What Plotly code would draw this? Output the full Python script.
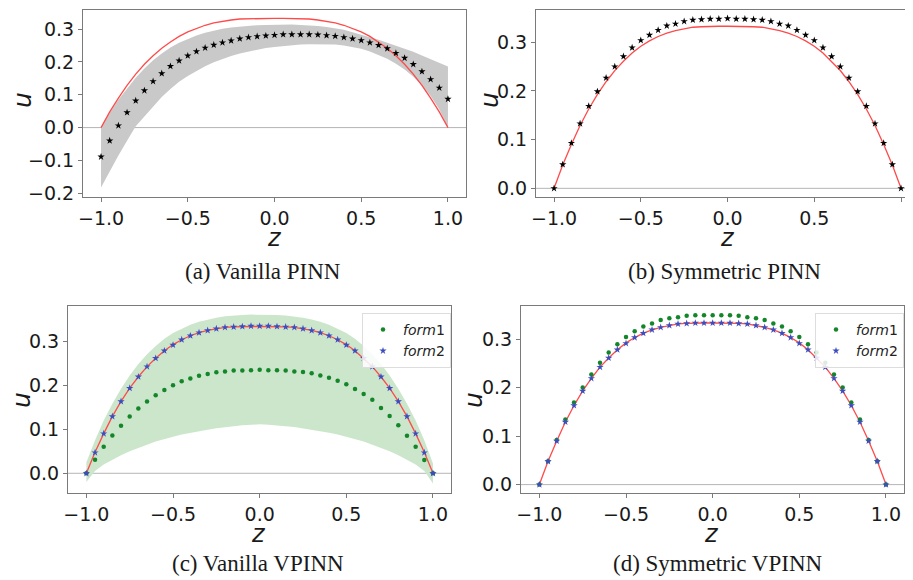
import plotly.graph_objects as go

# ---------------- data ----------------
z = [-1.0, -0.95, -0.9, -0.85, -0.8, -0.75, -0.7, -0.65, -0.6, -0.55, -0.5,
     -0.45, -0.4, -0.35, -0.3, -0.25, -0.2, -0.15, -0.1, -0.05, 0.0,
     0.05, 0.1, 0.15, 0.2, 0.25, 0.3, 0.35, 0.4, 0.45, 0.5,
     0.55, 0.6, 0.65, 0.7, 0.75, 0.8, 0.85, 0.9, 0.95, 1.0]

exact = [0.000, 0.048, 0.090, 0.129, 0.163, 0.193, 0.219, 0.242, 0.261, 0.278, 0.292,
         0.303, 0.312, 0.319, 0.324, 0.328, 0.331, 0.332, 0.333, 0.333, 0.333,
         0.333, 0.333, 0.332, 0.331, 0.328, 0.324, 0.319, 0.312, 0.303, 0.292,
         0.278, 0.261, 0.242, 0.219, 0.193, 0.163, 0.129, 0.090, 0.048, 0.000]

# (a) Vanilla PINN
a_pred = [-0.089, -0.040, 0.006, 0.046, 0.082, 0.113, 0.141, 0.165, 0.187, 0.204, 0.219,
          0.232, 0.243, 0.252, 0.259, 0.265, 0.271, 0.275, 0.278, 0.280, 0.282,
          0.284, 0.284, 0.284, 0.284, 0.283, 0.281, 0.279, 0.275, 0.271, 0.266,
          0.259, 0.251, 0.241, 0.227, 0.212, 0.193, 0.171, 0.147, 0.121, 0.087]
a_hi = [0.000, 0.045, 0.085, 0.120, 0.152, 0.180, 0.205, 0.226, 0.244, 0.259, 0.271,
        0.281, 0.289, 0.296, 0.301, 0.305, 0.308, 0.311, 0.312, 0.313, 0.314,
        0.314, 0.314, 0.313, 0.312, 0.310, 0.307, 0.303, 0.298, 0.291, 0.284,
        0.276, 0.268, 0.259, 0.250, 0.241, 0.231, 0.220, 0.209, 0.197, 0.186]
a_lo = [-0.183, -0.133, -0.085, -0.040, 0.004, 0.034, 0.065, 0.093, 0.118, 0.140, 0.157,
        0.173, 0.187, 0.199, 0.209, 0.218, 0.226, 0.232, 0.238, 0.243, 0.246,
        0.249, 0.251, 0.253, 0.254, 0.254, 0.254, 0.253, 0.250, 0.246, 0.240,
        0.232, 0.222, 0.210, 0.195, 0.177, 0.155, 0.128, 0.096, 0.055, 0.000]

# (b) Symmetric PINN
b_pred = [0.000, 0.049, 0.093, 0.133, 0.169, 0.199, 0.227, 0.250, 0.271, 0.289, 0.304,
          0.315, 0.325, 0.334, 0.338, 0.343, 0.346, 0.347, 0.348, 0.348, 0.349,
          0.348, 0.348, 0.347, 0.346, 0.343, 0.338, 0.334, 0.325, 0.315, 0.304,
          0.289, 0.271, 0.250, 0.227, 0.199, 0.169, 0.133, 0.093, 0.049, 0.000]

# (c) Vanilla VPINN
c_form1 = [0.000, 0.031, 0.060, 0.086, 0.108, 0.129, 0.147, 0.163, 0.177, 0.189, 0.200,
           0.209, 0.215, 0.221, 0.225, 0.229, 0.231, 0.233, 0.233, 0.234, 0.235,
           0.234, 0.234, 0.233, 0.231, 0.230, 0.227, 0.222, 0.217, 0.210, 0.202,
           0.191, 0.180, 0.167, 0.148, 0.130, 0.109, 0.085, 0.060, 0.030, 0.000]
c_form2 = [0.000, 0.047, 0.090, 0.129, 0.163, 0.193, 0.219, 0.242, 0.261, 0.278, 0.291,
           0.303, 0.312, 0.319, 0.324, 0.328, 0.331, 0.332, 0.333, 0.334, 0.334,
           0.334, 0.333, 0.332, 0.331, 0.328, 0.324, 0.319, 0.312, 0.303, 0.291,
           0.278, 0.261, 0.242, 0.219, 0.193, 0.163, 0.129, 0.090, 0.047, 0.000]
c_hi = [0.025, 0.075, 0.120, 0.158, 0.192, 0.222, 0.248, 0.270, 0.289, 0.305, 0.318,
        0.328, 0.337, 0.344, 0.349, 0.353, 0.356, 0.358, 0.359, 0.360, 0.360,
        0.360, 0.359, 0.358, 0.356, 0.353, 0.349, 0.344, 0.337, 0.328, 0.318,
        0.305, 0.289, 0.270, 0.248, 0.222, 0.192, 0.158, 0.120, 0.075, 0.022]
c_lo = [-0.020, 0.005, 0.020, 0.031, 0.041, 0.050, 0.058, 0.065, 0.072, 0.078, 0.083,
        0.088, 0.092, 0.096, 0.099, 0.102, 0.105, 0.107, 0.109, 0.110, 0.111,
        0.110, 0.109, 0.107, 0.105, 0.102, 0.099, 0.096, 0.092, 0.088, 0.083,
        0.078, 0.072, 0.065, 0.058, 0.050, 0.041, 0.031, 0.020, 0.005, -0.023]

# (d) Symmetric VPINN
d_form1 = [0.000, 0.048, 0.092, 0.134, 0.169, 0.200, 0.227, 0.251, 0.272, 0.289, 0.304,
           0.316, 0.326, 0.332, 0.339, 0.343, 0.345, 0.348, 0.349, 0.349, 0.349,
           0.349, 0.349, 0.348, 0.345, 0.343, 0.339, 0.332, 0.326, 0.316, 0.304,
           0.289, 0.272, 0.251, 0.227, 0.200, 0.169, 0.134, 0.092, 0.048, 0.000]
d_form2 = [0.000, 0.048, 0.090, 0.129, 0.163, 0.193, 0.219, 0.242, 0.261, 0.278, 0.291,
           0.303, 0.312, 0.319, 0.324, 0.328, 0.331, 0.332, 0.333, 0.333, 0.333,
           0.333, 0.333, 0.332, 0.331, 0.328, 0.324, 0.319, 0.312, 0.303, 0.291,
           0.278, 0.261, 0.242, 0.219, 0.193, 0.163, 0.129, 0.090, 0.048, 0.000]

x_ticks = [-1.0, -0.5, 0.0, 0.5, 1.0]
a_yticks = [-0.2, -0.1, 0.0, 0.1, 0.2, 0.3]
b_yticks = [0.0, 0.1, 0.2, 0.3]
captions = ["(a) Vanilla PINN", "(b) Symmetric PINN", "(c) Vanilla VPINN", "(d) Symmetric VPINN"]
legend_names = ["<i>form</i>1", "<i>form</i>2"]

# ---------------- style ----------------
OFF = 8            # page body margin offset
W, H = 905, 572    # figure size (page is 913x580 incl. margin)
RED = "#ff4a4a"
GRAY_FILL = "#c9c9c9"
GREEN_FILL = "#cce6cc"
GREEN = "#14862a"
BLUE = "#3c4dbd"
SPINE = "#7a7a7a"
TICKFONT = dict(family="DejaVu Sans", size=19, color="#1a1a1a")


def fx(px):
    return (px - OFF) / W


def fy(py):
    return 1 - (py - OFF) / H


fig = go.Figure()


def band(lo, hi, xa, ya, color):
    fig.add_trace(go.Scatter(x=z, y=lo, mode="lines", line=dict(width=0, color=color),
                             xaxis=xa, yaxis=ya, showlegend=False, hoverinfo="skip"))
    fig.add_trace(go.Scatter(x=z, y=hi, mode="lines", line=dict(width=0, color=color),
                             fill="tonexty", fillcolor=color,
                             xaxis=xa, yaxis=ya, showlegend=False, hoverinfo="skip"))


def red_line(xa, ya):
    fig.add_trace(go.Scatter(x=z, y=exact, mode="lines", line=dict(color=RED, width=1.3),
                             xaxis=xa, yaxis=ya, showlegend=False))


def stars(vals, xa, ya, color, size=6, name=None, legend=None, symbol="star"):
    fig.add_trace(go.Scatter(x=z, y=vals, mode="markers",
                             marker=dict(symbol=symbol, size=size, color=color, line=dict(width=0)),
                             xaxis=xa, yaxis=ya, name=name,
                             showlegend=legend is not None, legend=legend))


# (a)
band(a_lo, a_hi, "x", "y", GRAY_FILL)
red_line("x", "y")
stars(a_pred, "x", "y", "black", size=5.5)
# (b)
red_line("x2", "y2")
stars(b_pred, "x2", "y2", "black", size=5.5)
# (c)
band(c_lo, c_hi, "x3", "y3", GREEN_FILL)
red_line("x3", "y3")
stars(c_form1, "x3", "y3", GREEN, size=4.5, name=legend_names[0], legend="legend", symbol="circle")
stars(c_form2, "x3", "y3", BLUE, size=5.5, name=legend_names[1], legend="legend")
# (d)
red_line("x4", "y4")
stars(d_form1, "x4", "y4", GREEN, size=4.5, name=legend_names[0], legend="legend2", symbol="circle")
stars(d_form2, "x4", "y4", BLUE, size=5.5, name=legend_names[1], legend="legend2")

panels = [
    dict(xd=(83, 466), yd=(10, 197), xr=[-1.104, 1.104], yr=[-0.2116, 0.3585], yt=a_yticks),
    dict(xd=(536, 913), yd=(10, 197), xr=[-1.104, 1.069], yr=[-0.0178, 0.3664], yt=b_yticks),
    dict(xd=(68, 451), yd=(306, 493), xr=[-1.106, 1.104], yr=[-0.0447, 0.3795], yt=b_yticks),
    dict(xd=(521, 904), yd=(306, 493), xr=[-1.106, 1.104], yr=[-0.0173, 0.368], yt=b_yticks),
]

layout = dict(width=W, height=H, margin=dict(l=0, r=0, t=0, b=0),
              paper_bgcolor="white", plot_bgcolor="white", shapes=[], annotations=[])

for i, p in enumerate(panels):
    sfx = "" if i == 0 else str(i + 1)
    common = dict(ticks="outside", ticklen=4, tickcolor=SPINE, showgrid=False, zeroline=False,
                  showline=True, linecolor=SPINE, linewidth=1, mirror=True,
                  tickfont=TICKFONT, tickformat=".1f", automargin=False)
    layout["xaxis" + sfx] = dict(domain=[fx(p["xd"][0]), min(1.0, fx(p["xd"][1]))],
                                 range=p["xr"], anchor="y" + sfx, tickvals=x_ticks, **common)
    layout["yaxis" + sfx] = dict(domain=[fy(p["yd"][1]), fy(p["yd"][0])],
                                 range=p["yr"], anchor="x" + sfx, tickvals=p["yt"], **common)
    layout["shapes"].append(dict(type="line", xref="x" + sfx + " domain", yref="y" + sfx,
                                 x0=0, x1=1, y0=0, y1=0,
                                 line=dict(color="#b5b5b5", width=1), layer="below"))

u_pos = [(22, 100), (489, 100), (21, 400), (473, 400)]
z_pos = [(274, 237), (727, 237), (258, 533), (711, 533)]
cap_pos = [(263, 271), (724, 271), (258, 563), (718, 563)]
for (ux, uy), (zx, zy), (cx, cy), cap in zip(u_pos, z_pos, cap_pos, captions):
    layout["annotations"].append(dict(text="<i>u</i>", x=fx(ux), y=fy(uy), xref="paper", yref="paper",
                                      xanchor="center", yanchor="middle",
                                      showarrow=False, textangle=-90,
                                      font=dict(family="DejaVu Sans", size=25, color="#1a1a1a")))
    layout["annotations"].append(dict(text="<i>z</i>", x=fx(zx), y=fy(zy), xref="paper", yref="paper",
                                      xanchor="center", yanchor="middle", showarrow=False,
                                      height=19, valign="middle",
                                      font=dict(family="DejaVu Sans", size=24, color="#1a1a1a")))
    layout["annotations"].append(dict(text=cap, x=fx(cx), y=fy(cy), xref="paper", yref="paper",
                                      xanchor="center", yanchor="middle", showarrow=False,
                                      font=dict(family="Liberation Serif", size=23, color="#1a1a1a")))

leg_common = dict(xanchor="left", yanchor="top", bgcolor="rgba(255,255,255,0.85)",
                  bordercolor="#dddddd", borderwidth=1, traceorder="normal",
                  font=dict(family="DejaVu Sans", size=14, color="#222"),
                  itemwidth=30, tracegroupgap=0)
layout["legend"] = dict(x=fx(362), y=fy(313), **leg_common)
layout["legend2"] = dict(x=fx(815), y=fy(313), **leg_common)

fig.update_layout(**layout)
fig.write_html("out.html")
